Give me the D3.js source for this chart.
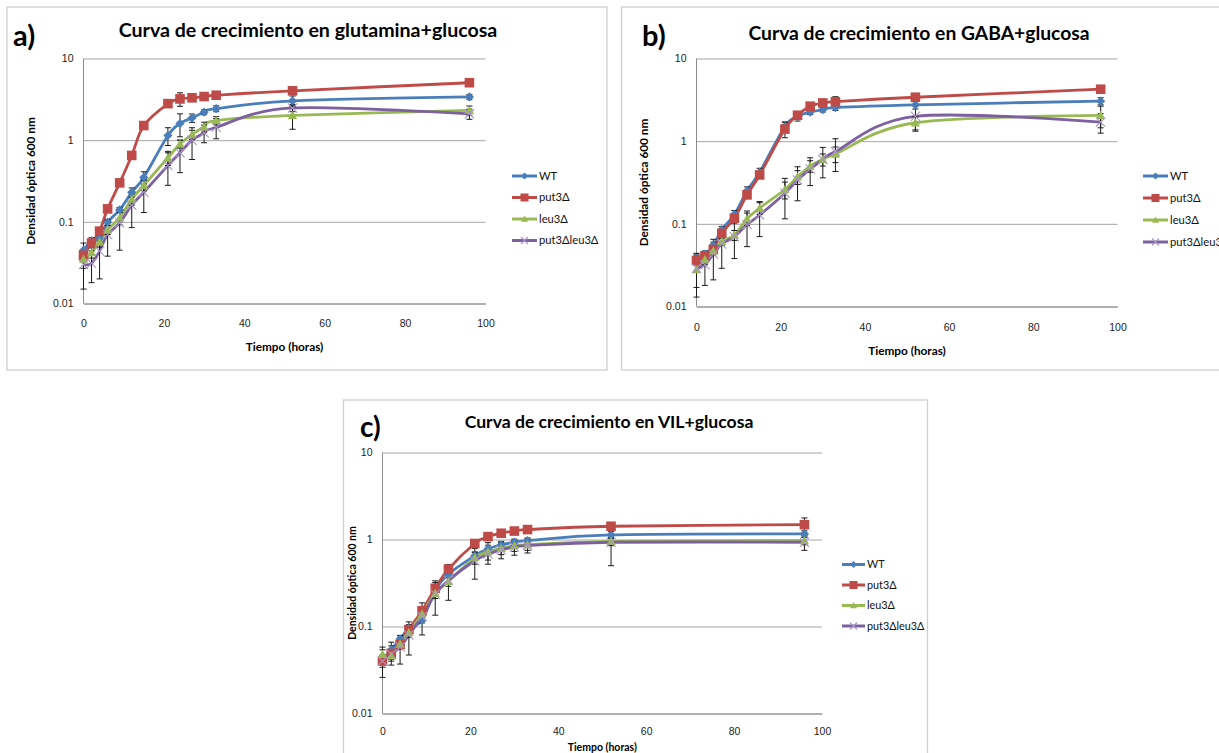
<!DOCTYPE html>
<html>
<head>
<meta charset="utf-8">
<script src="https://cdn.jsdelivr.net/npm/d3@7"></script>
<style>
  body { margin: 0; background: #fff; }
  svg { display: block; font-family: Lato, "Liberation Sans", sans-serif; }
</style>
</head>
<body>
<div id="container"></div>
<script>
// Shared axes and categories
const hours = [0, 2, 4, 6, 9, 12, 15, 21, 24, 27, 30, 33, 52, 96];
const strains = ['WT', 'put3Δ', 'leu3Δ', 'put3Δleu3Δ'];
const yTickValues = [0.01, 0.1, 1, 10];
const xTickValues = [0, 20, 40, 60, 80, 100];
const panelTitles = [
    'Curva de crecimiento en glutamina+glucosa',
    'Curva de crecimiento en GABA+glucosa',
    'Curva de crecimiento en VIL+glucosa'
];
const panelLetters = ['a)', 'b)', 'c)'];

// a) glutamina + glucosa (OD600)
const glnWT = [0.045, 0.059, 0.063, 0.099, 0.14, 0.23, 0.35, 1.14, 1.6, 1.87, 2.2, 2.43, 3.02, 3.38];
const glnPut3 = [0.039, 0.055, 0.077, 0.144, 0.3, 0.65, 1.51, 2.8, 3.2, 3.3, 3.42, 3.55, 4.02, 5.05];
const glnLeu3 = [0.035, 0.042, 0.057, 0.08, 0.112, 0.19, 0.28, 0.61, 0.9, 1.17, 1.46, 1.74, 2.01, 2.32];
const glnDouble = [0.03, 0.031, 0.044, 0.07, 0.097, 0.16, 0.23, 0.49, 0.7, 1.0, 1.23, 1.44, 2.48, 2.1];
const glnWTErr = [0.01, 0.005, 0.005, 0.008, 0.01, 0.03, 0.06, 0.28, 0.5, 0.22, 0.15, 0.2, 0.45, 0.25];
const glnPut3Err = [0.005, 0.005, 0.005, 0.01, 0.02, 0.04, 0.1, 0.15, 0.6, 0.2, 0.15, 0.35, 0.3, 0.25];
const glnLeu3Err = [0.008, 0.006, 0.008, 0.01, 0.02, 0.03, 0.04, 0.12, 0.1, 0.15, 0.2, 0.2, 0.65, 0.3];
const glnDoubleErr = [0.015, 0.013, 0.024, 0.032, 0.052, 0.075, 0.1, 0.21, 0.3, 0.42, 0.3, 0.4, 0.25, 0.3];

// b) GABA + glucosa
const gabaWT = [0.038, 0.043, 0.055, 0.085, 0.13, 0.25, 0.42, 1.5, 2.0, 2.25, 2.4, 2.55, 2.75, 3.05];
const gabaPut3 = [0.036, 0.041, 0.049, 0.077, 0.117, 0.224, 0.39, 1.4, 2.06, 2.65, 2.9, 3.0, 3.4, 4.25];
const gabaLeu3 = [0.028, 0.037, 0.047, 0.061, 0.073, 0.115, 0.155, 0.26, 0.37, 0.5, 0.6, 0.7, 1.67, 2.05];
const gabaDouble = [0.029, 0.032, 0.043, 0.057, 0.07, 0.098, 0.128, 0.235, 0.34, 0.46, 0.6, 0.75, 2.0, 1.7];
const gabaWTErr = [0.006, 0.004, 0.005, 0.008, 0.015, 0.03, 0.05, 0.2, 0.25, 0.15, 0.15, 0.2, 0.3, 0.3];
const gabaPut3Err = [0.004, 0.004, 0.005, 0.008, 0.01, 0.02, 0.03, 0.3, 0.2, 0.2, 0.2, 0.45, 0.25, 0.2];
const gabaLeu3Err = [0.015, 0.005, 0.005, 0.006, 0.01, 0.02, 0.025, 0.06, 0.07, 0.08, 0.1, 0.15, 0.3, 0.6];
const gabaDoubleErr = [0.012, 0.014, 0.022, 0.028, 0.032, 0.045, 0.058, 0.12, 0.15, 0.17, 0.24, 0.32, 0.68, 0.45];

// c) VIL + glucosa
const vilWT = [0.042, 0.054, 0.072, 0.095, 0.118, 0.26, 0.4, 0.65, 0.78, 0.87, 0.93, 0.97, 1.13, 1.16];
const vilPut3 = [0.04, 0.049, 0.062, 0.092, 0.152, 0.275, 0.457, 0.9, 1.08, 1.18, 1.25, 1.3, 1.42, 1.48];
const vilLeu3 = [0.048, 0.046, 0.063, 0.085, 0.14, 0.24, 0.33, 0.62, 0.72, 0.79, 0.85, 0.87, 0.95, 0.97];
const vilDouble = [0.04, 0.048, 0.058, 0.08, 0.13, 0.235, 0.34, 0.57, 0.68, 0.76, 0.82, 0.85, 0.93, 0.93];
const vilWTErr = [0.005, 0.012, 0.006, 0.01, 0.038, 0.03, 0.04, 0.06, 0.08, 0.08, 0.08, 0.06, 0.1, 0.1];
const vilPut3Err = [0.014, 0.006, 0.006, 0.01, 0.035, 0.045, 0.06, 0.08, 0.1, 0.1, 0.08, 0.06, 0.08, 0.29];
const vilLeu3Err = [0.01, 0.006, 0.008, 0.01, 0.02, 0.03, 0.13, 0.1, 0.2, 0.12, 0.12, 0.17, 0.1, 0.1];
const vilDoubleErr = [0.006, 0.012, 0.021, 0.033, 0.02, 0.1, 0.05, 0.22, 0.1, 0.16, 0.16, 0.1, 0.43, 0.18];

// Excel 2007 palette, one per strain
const colors = ['#4A7EBB', '#BE4B48', '#98B954', '#7D60A0'];
const markerTypes = ['diamond', 'square', 'triangle', 'x'];

const width = 1219;
const height = 753;

const svg = d3.select('#container').append('svg')
    .attr('width', width)
    .attr('height', height);

// Layout for each panel
const panels = [
    {
        values: [glnWT, glnPut3, glnLeu3, glnDouble],
        errors: [glnWTErr, glnPut3Err, glnLeu3Err, glnDoubleErr],
        frame: { x: 7, y: 7, w: 600, h: 363 },
        plot: { left: 83.5, right: 485.5, top: 58.5, bottom: 303.5 },
        titleX: 308, titleY: 37, titleSize: 19.6, letterX: 13, letterY: 46, letterSize: 29,
        xLabelY: 327, xTitleY: 351, yTitleX: 31, axisTitleSize: 11.8,
        legend: { x: 512, y: 176, step: 21.5, len: 25, size: 11.2 }
    },
    {
        values: [gabaWT, gabaPut3, gabaLeu3, gabaDouble],
        errors: [gabaWTErr, gabaPut3Err, gabaLeu3Err, gabaDoubleErr],
        frame: { x: 621.5, y: 7, w: 700, h: 363 },
        plot: { left: 696.5, right: 1117.5, top: 58.5, bottom: 306.5 },
        titleX: 919, titleY: 40, titleSize: 19.3, letterX: 642, letterY: 46, letterSize: 29,
        xLabelY: 331, xTitleY: 355, yTitleX: 644, axisTitleSize: 11.8,
        legend: { x: 1143, y: 176, step: 22, len: 25, size: 11.2 }
    },
    {
        values: [vilWT, vilPut3, vilLeu3, vilDouble],
        errors: [vilWTErr, vilPut3Err, vilLeu3Err, vilDoubleErr],
        frame: { x: 343.5, y: 400, w: 584, h: 400 },
        plot: { left: 382.5, right: 822, top: 452.5, bottom: 713.5 },
        titleX: 609, titleY: 428, titleSize: 17.6, letterX: 360, letterY: 437, letterSize: 28,
        xLabelY: 735, xTitleY: 751, yTitleX: 352, axisTitleSize: 10.5,
        legend: { x: 842, y: 564.5, step: 20.5, len: 23, size: 10.8 }
    }
];

// Marker path around (0,0)
function markerPath(type, r) {
    if (type === 'diamond') return `M0,${-r}L${r},0L0,${r}L${-r},0Z`;
    if (type === 'square') return `M${-r},${-r}H${r}V${r}H${-r}Z`;
    if (type === 'triangle') return `M0,${-r}L${r},${r * 0.8}L${-r},${r * 0.8}Z`;
    return `M${-r},${-r}L${r},${r}M${-r},${r}L${r},${-r}`;
}

function drawMarker(g, type, color, cx, cy, r) {
    const path = g.append('path')
        .attr('d', markerPath(type, r))
        .attr('transform', `translate(${cx},${cy})`);
    if (type === 'x') {
        path.attr('fill', 'none').attr('stroke', '#A996C4').attr('stroke-width', 1.1);
    } else {
        path.attr('fill', color);
    }
}

panels.forEach((p, k) => {
    const g = svg.append('g');
    const plotW = p.plot.right - p.plot.left;

    // chart frame
    g.append('rect')
        .attr('x', p.frame.x).attr('y', p.frame.y)
        .attr('width', p.frame.w).attr('height', p.frame.h)
        .attr('fill', '#fff')
        .attr('stroke', '#cfcfcf')
        .attr('stroke-width', 1.3);

    const xScale = d3.scaleLinear().domain([0, 100]).range([p.plot.left, p.plot.right]);
    const yScale = d3.scaleLog().domain([0.01, 10]).range([p.plot.bottom, p.plot.top]);

    // Y axis with gridlines
    const yAxis = g.append('g')
        .attr('transform', `translate(${p.plot.left},0)`)
        .call(d3.axisLeft(yScale).tickValues(yTickValues)
            .tickSize(-plotW).tickPadding(10).tickFormat(d => String(d)));
    yAxis.select('.domain').remove();
    yAxis.selectAll('.tick line').attr('stroke', '#a6a6a6');
    yAxis.selectAll('.tick text').attr('fill', '#222').attr('font-size', 10.5);

    g.append('line')
        .attr('x1', p.plot.left).attr('x2', p.plot.left)
        .attr('y1', p.plot.top).attr('y2', p.plot.bottom)
        .attr('stroke', '#8c8c8c');

    // X axis
    const xAxis = g.append('g')
        .attr('transform', `translate(0,${p.plot.bottom})`)
        .call(d3.axisBottom(xScale).tickValues(xTickValues).tickSize(0).tickPadding(0));
    xAxis.select('.domain').attr('stroke', '#8c8c8c');
    xAxis.selectAll('.tick text')
        .attr('dy', null)
        .attr('y', p.xLabelY - p.plot.bottom)
        .attr('fill', '#222').attr('font-size', 10.5);

    // Titles
    g.append('text')
        .attr('x', p.titleX).attr('y', p.titleY)
        .attr('text-anchor', 'middle')
        .attr('font-weight', 'bold').attr('font-size', p.titleSize)
        .text(panelTitles[k]);

    g.append('text')
        .attr('x', p.letterX).attr('y', p.letterY)
        .attr('font-weight', 'bold').attr('font-size', p.letterSize)
        .text(panelLetters[k]);

    g.append('text')
        .attr('x', (p.plot.left + p.plot.right) / 2).attr('y', p.xTitleY)
        .attr('text-anchor', 'middle')
        .attr('font-weight', 'bold').attr('font-size', p.axisTitleSize)
        .text('Tiempo (horas)');

    const yMid = (p.plot.top + p.plot.bottom) / 2;
    g.append('text')
        .attr('transform', `translate(${p.yTitleX},${yMid}) rotate(-90)`)
        .attr('text-anchor', 'middle')
        .attr('dy', '0.35em')
        .attr('font-weight', 'bold').attr('font-size', p.axisTitleSize)
        .text('Densidad óptica 600 nm');

    // Series lines
    const line = d3.line()
        .x((d, i) => xScale(hours[i]))
        .y(d => yScale(d))
        .curve(d3.curveCardinal.tension(0));

    p.values.forEach((vals, s) => {
        g.append('path')
            .attr('d', line(vals))
            .attr('fill', 'none')
            .attr('stroke', colors[s])
            .attr('stroke-width', 2.8);
    });

    // Error bars
    p.values.forEach((vals, s) => {
        vals.forEach((v, i) => {
            const e = p.errors[s][i];
            const cx = xScale(hours[i]);
            const yTop = yScale(v + e);
            const yBot = yScale(Math.max(v - e, 0.0101));
            g.append('line')
                .attr('x1', cx).attr('x2', cx).attr('y1', yTop).attr('y2', yBot)
                .attr('stroke', '#1a1a1a').attr('stroke-width', 1);
            [yTop, yBot].forEach(yy => {
                g.append('line')
                    .attr('x1', cx - 3).attr('x2', cx + 3).attr('y1', yy).attr('y2', yy)
                    .attr('stroke', '#1a1a1a').attr('stroke-width', 1);
            });
        });
    });

    // Markers on top
    p.values.forEach((vals, s) => {
        vals.forEach((v, i) => {
            drawMarker(g, markerTypes[s], colors[s], xScale(hours[i]), yScale(v), s === 1 ? 4.8 : 4.6);
        });
    });

    // Legend
    strains.forEach((name, s) => {
        const ly = p.legend.y + s * p.legend.step;
        g.append('line')
            .attr('x1', p.legend.x).attr('x2', p.legend.x + p.legend.len)
            .attr('y1', ly).attr('y2', ly)
            .attr('stroke', colors[s]).attr('stroke-width', 3);
        drawMarker(g, markerTypes[s], colors[s], p.legend.x + p.legend.len / 2, ly, s === 1 ? 4 : 3.5);
        g.append('text')
            .attr('x', p.legend.x + p.legend.len + 2).attr('y', ly)
            .attr('dy', '0.35em')
            .attr('font-size', p.legend.size).attr('fill', '#111')
            .text(name);
    });
});
</script>
</body>
</html>
